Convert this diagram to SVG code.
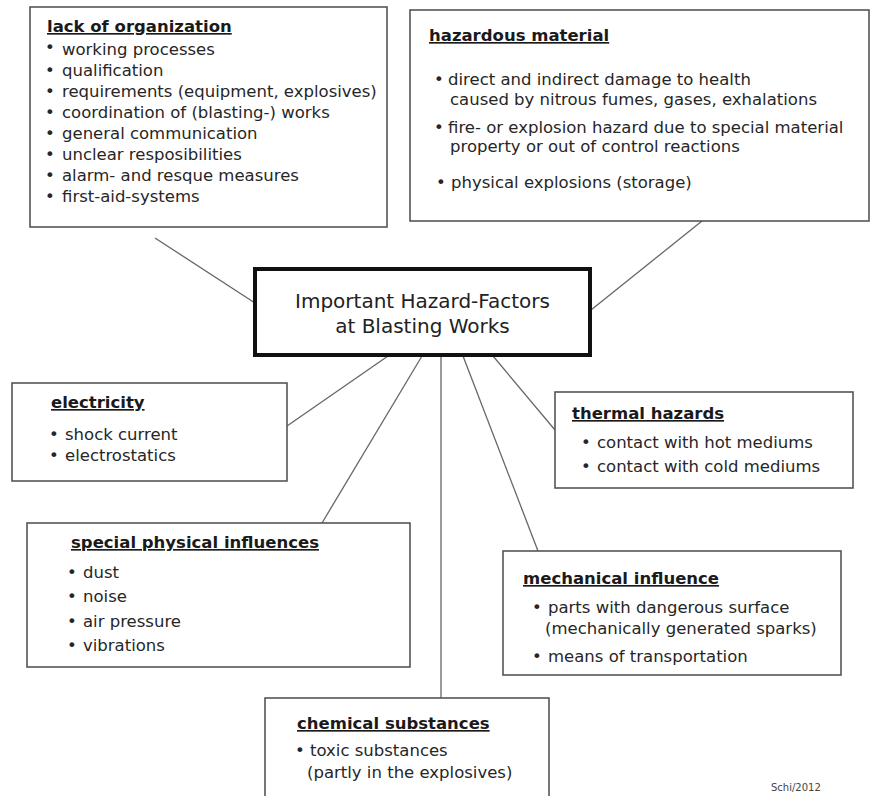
<svg xmlns="http://www.w3.org/2000/svg" width="871" height="796" viewBox="0 0 871 796">
<style>
text{font-family:"DejaVu Sans","Verdana",sans-serif;fill:#262626;font-size:16.5px}
.t{font-weight:bold;text-decoration:underline;fill:#1a1a1a}
.box{fill:#fff;stroke:#555;stroke-width:1.6}
.main{fill:#fff;stroke:#111;stroke-width:4}
.c{font-size:20px;text-anchor:middle;fill:#222}
.con line{stroke:#666;stroke-width:1.3}
.sig{font-size:10px;fill:#444}
</style>
<rect width="871" height="796" fill="#fff"/>
<g class="con" id="connectors">
<line x1="155" y1="238" x2="255" y2="303"/>
<line x1="702" y1="221" x2="591" y2="310"/>
<line x1="388" y1="356" x2="287" y2="426"/>
<line x1="422" y1="356" x2="322" y2="523"/>
<line x1="441" y1="356" x2="441" y2="698"/>
<line x1="463" y1="356" x2="538" y2="551"/>
<line x1="493" y1="356" x2="555" y2="430"/>
</g>
<g id="center">
<rect class="main" x="255" y="269" width="335" height="86"/>
<text class="c" x="422.5" y="308">Important Hazard-Factors</text>
<text class="c" x="422.5" y="333">at Blasting Works</text>
</g>
<g id="organization">
<rect class="box" x="30" y="7" width="357" height="220"/>
<text class="t" x="47" y="32">lack of organization</text>
<text x="45" y="53">•</text><text x="62" y="55">working processes</text>
<text x="45" y="76">•</text><text x="62" y="76">qualification</text>
<text x="45" y="97">•</text><text x="62" y="97">requirements (equipment, explosives)</text>
<text x="45" y="118">•</text><text x="62" y="118">coordination of (blasting-) works</text>
<text x="45" y="139">•</text><text x="62" y="139">general communication</text>
<text x="45" y="160">•</text><text x="62" y="160">unclear resposibilities</text>
<text x="45" y="181">•</text><text x="62" y="181">alarm- and resque measures</text>
<text x="45" y="202">•</text><text x="62" y="202">first-aid-systems</text>
</g>
<g id="hazardous">
<rect class="box" x="410" y="10" width="459" height="211"/>
<text class="t" x="429" y="41">hazardous material</text>
<text x="434" y="85">•</text><text x="448" y="85">direct and indirect damage to health</text>
<text x="450" y="105">caused by nitrous fumes, gases, exhalations</text>
<text x="434" y="133">•</text><text x="448" y="133">fire- or explosion hazard due to special material</text>
<text x="450" y="152">property or out of control reactions</text>
<text x="436" y="188">•</text><text x="451" y="188">physical explosions (storage)</text>
</g>
<g id="electricity">
<rect class="box" x="12" y="383" width="275" height="98"/>
<text class="t" x="51" y="408">electricity</text>
<text x="49" y="440">•</text><text x="65" y="440">shock current</text>
<text x="49" y="461">•</text><text x="65" y="461">electrostatics</text>
</g>
<g id="thermal">
<rect class="box" x="555" y="392" width="298" height="96"/>
<text class="t" x="572" y="419">thermal hazards</text>
<text x="581" y="448">•</text><text x="597" y="448">contact with hot mediums</text>
<text x="581" y="472">•</text><text x="597" y="472">contact with cold mediums</text>
</g>
<g id="physical">
<rect class="box" x="27" y="523" width="383" height="144"/>
<text class="t" x="71" y="548">special physical influences</text>
<text x="67" y="578">•</text><text x="83" y="578">dust</text>
<text x="67" y="602">•</text><text x="83" y="602">noise</text>
<text x="67" y="627">•</text><text x="83" y="627">air pressure</text>
<text x="67" y="651">•</text><text x="83" y="651">vibrations</text>
</g>
<g id="mechanical">
<rect class="box" x="503" y="551" width="338" height="124"/>
<text class="t" x="523" y="584">mechanical influence</text>
<text x="532" y="613">•</text><text x="548" y="613">parts with dangerous surface</text>
<text x="545" y="634">(mechanically generated sparks)</text>
<text x="532" y="662">•</text><text x="548" y="662">means of transportation</text>
</g>
<g id="chemical">
<rect class="box" x="265" y="698" width="284" height="110"/>
<text class="t" x="297" y="729">chemical substances</text>
<text x="295" y="756">•</text><text x="310" y="756">toxic substances</text>
<text x="307" y="778">(partly in the explosives)</text>
</g>
<text class="sig" x="771" y="791">Schi/2012</text>
</svg>
